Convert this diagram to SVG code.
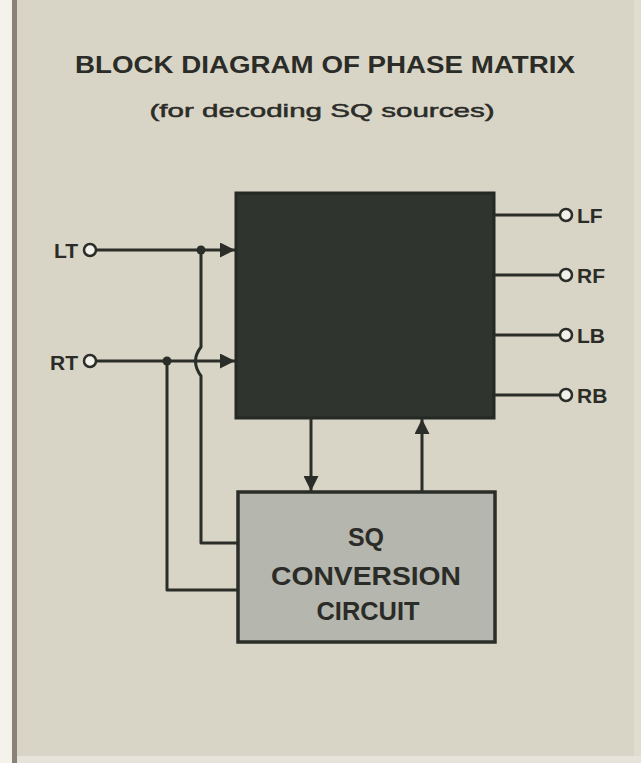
<svg xmlns="http://www.w3.org/2000/svg" width="641" height="763" viewBox="0 0 641 763">
<defs>
<style>
.t{font-family:"Liberation Sans",Arial,sans-serif;font-weight:bold;fill:#2b2c28}
.w{stroke:#2b2d29;stroke-width:3;fill:none;stroke-linejoin:round}
.pin{fill:#f2f1ea;stroke:#2b2d29;stroke-width:2.5}
</style>
<marker id="ah" viewBox="0 0 10 10" refX="10" refY="5" markerWidth="6.5" markerHeight="5" orient="auto" markerUnits="strokeWidth">
<path d="M0,0 L10,5 L0,10 Z" fill="#2b2d29"/>
</marker>
</defs>
<rect x="0" y="0" width="641" height="763" fill="#d8d5c6"/>
<rect x="0" y="0" width="12" height="763" fill="#f4f2ea"/>
<rect x="12" y="0" width="5" height="763" fill="#8a8278"/>
<rect x="634" y="0" width="7" height="763" fill="#e0ddcf"/>
<rect x="17" y="756" width="624" height="7" fill="#e6e4da"/>

<g id="title">
<text class="t" x="325" y="73" font-size="23" text-anchor="middle" textLength="500" lengthAdjust="spacingAndGlyphs">BLOCK DIAGRAM OF PHASE MATRIX</text>
<text class="t" x="322" y="117" font-size="19" text-anchor="middle" textLength="345" lengthAdjust="spacingAndGlyphs" style="font-weight:normal" stroke="#2b2c28" stroke-width="0.5">(for decoding SQ sources)</text>
</g>

<g id="decoder">
<rect x="236" y="193" width="258" height="225" fill="#2f342f" stroke="#252925" stroke-width="3"/>
</g>

<g id="sq-conversion">
<rect x="238" y="492" width="257" height="150" fill="#b5b6ad" stroke="#2b2d29" stroke-width="3.5"/>
<text class="t" x="366" y="546" font-size="25" text-anchor="middle">SQ</text>
<text class="t" x="366" y="585" font-size="25" text-anchor="middle" textLength="190" lengthAdjust="spacingAndGlyphs">CONVERSION</text>
<text class="t" x="368" y="620" font-size="25" text-anchor="middle" textLength="103" lengthAdjust="spacingAndGlyphs">CIRCUIT</text>
</g>

<g id="inputs">
<text class="t" x="78" y="258" font-size="21" text-anchor="end">LT</text>
<text class="t" x="78" y="370" font-size="21" text-anchor="end">RT</text>
</g>

<g id="outputs">
<text class="t" x="577" y="223" font-size="21">LF</text>
<text class="t" x="577" y="283" font-size="21">RF</text>
<text class="t" x="577" y="343" font-size="21">LB</text>
<text class="t" x="577" y="403" font-size="21">RB</text>
</g>

<g id="connectors">
<path class="w" d="M96,250 L235,250" marker-end="url(#ah)"/>
<path class="w" d="M96,361 L235,361" marker-end="url(#ah)"/>
<path class="w" d="M201,250 L201,347 Q190,361 201,376 L201,543 L238,543"/>
<path class="w" d="M167,361 L167,590 L238,590"/>
<path class="w" d="M311,418 L311,491" marker-end="url(#ah)"/>
<path class="w" d="M422,492 L422,419" marker-end="url(#ah)"/>
<path class="w" d="M494,215 L560,215 M494,275 L560,275 M494,335 L560,335 M494,395 L560,395"/>
<circle cx="201" cy="250" r="4.5" fill="#2b2d29"/>
<circle cx="167" cy="361" r="4.5" fill="#2b2d29"/>
<circle class="pin" cx="90" cy="250" r="6"/>
<circle class="pin" cx="90" cy="361" r="6"/>
<circle class="pin" cx="566" cy="215" r="6"/>
<circle class="pin" cx="566" cy="275" r="6"/>
<circle class="pin" cx="566" cy="335" r="6"/>
<circle class="pin" cx="566" cy="395" r="6"/>
</g>
</svg>
